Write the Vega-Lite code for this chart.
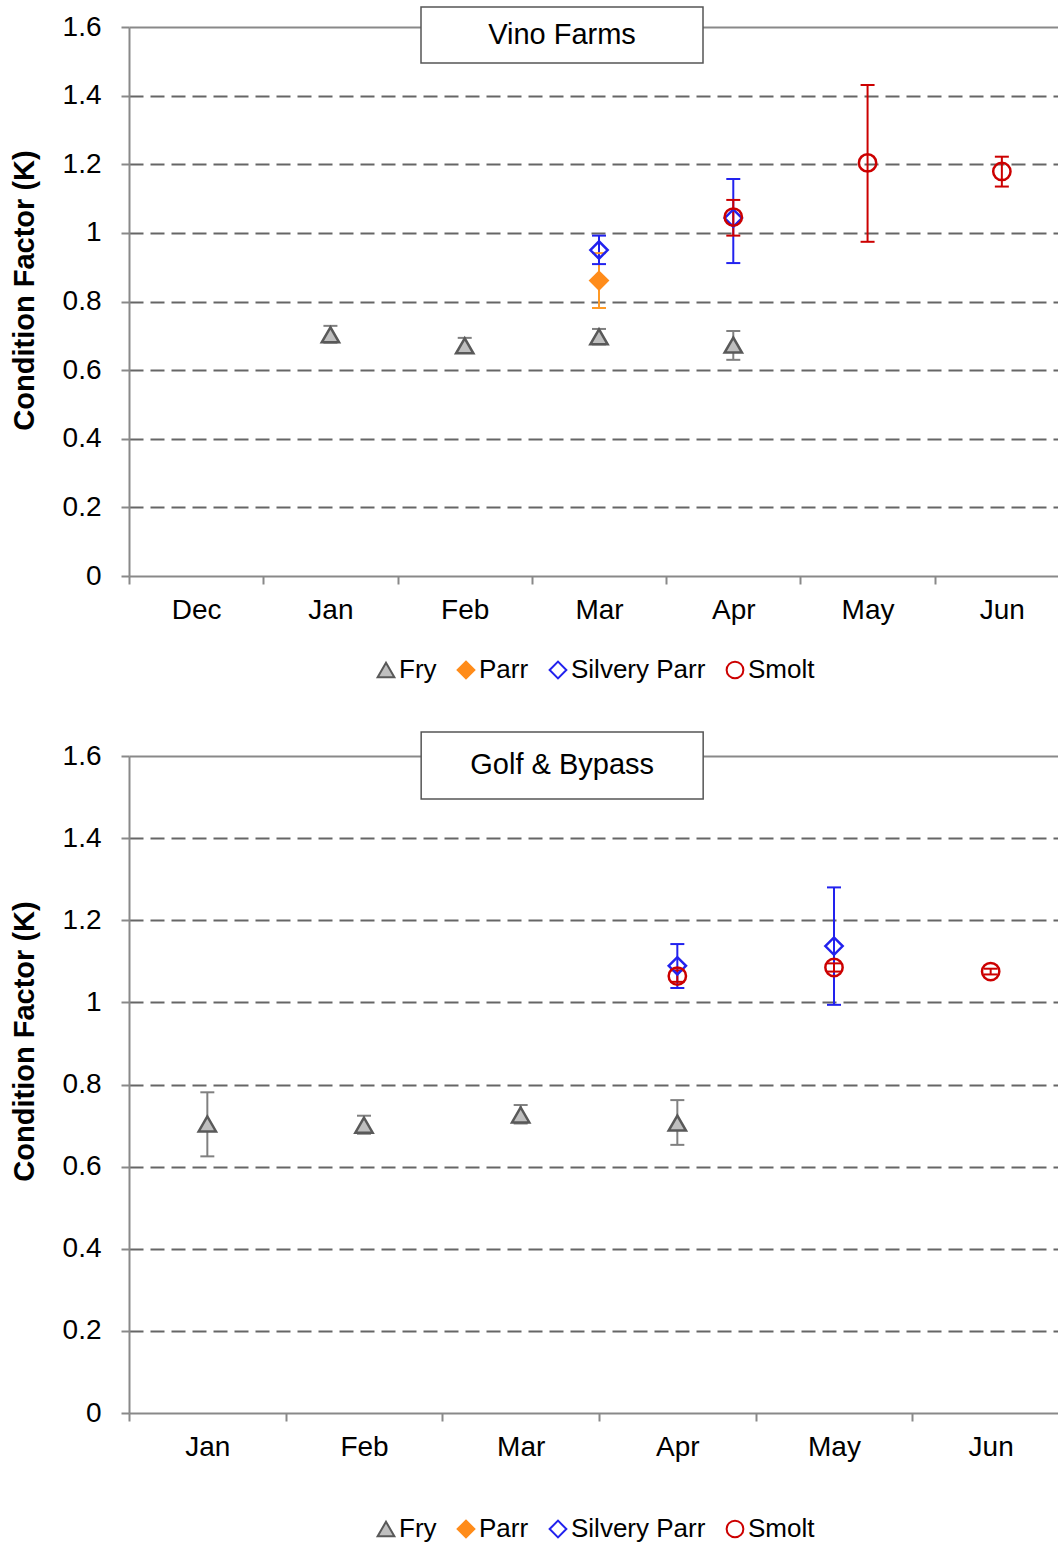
{
  "$schema": "https://vega.github.io/schema/vega-lite/v6.json",
  "padding": {"left": 10, "top": 3, "right": 0, "bottom": 0},
  "background": "white",
  "config": {
    "font": "Liberation Sans",
    "view": {"stroke": null},
    "axis": {
      "labelFont": "Liberation Sans", "labelFontSize": 28, "labelColor": "#000",
      "titleFont": "Liberation Sans", "titleFontSize": 29, "titleColor": "#000",
      "domainColor": "#898989", "domainWidth": 2, "tickColor": "#898989", "tickWidth": 2, "tickSize": 8
    },
    "legend": {
      "labelFont": "Liberation Sans", "labelFontSize": 26, "labelColor": "#000",
      "symbolSize": 280, "symbolStrokeWidth": 2, "labelOffset": 0, "columnPadding": 16
    }
  },
  "datasets": {
    "vino": [
      {"month": "Jan", "stage": "Fry", "k": 0.703, "lo": 0.680, "hi": 0.729},
      {"month": "Feb", "stage": "Fry", "k": 0.671, "lo": 0.650, "hi": 0.694},
      {"month": "Mar", "stage": "Fry", "k": 0.697, "lo": 0.675, "hi": 0.720},
      {"month": "Apr", "stage": "Fry", "k": 0.673, "lo": 0.630, "hi": 0.714},
      {"month": "Mar", "stage": "Parr", "k": 0.861, "lo": 0.781, "hi": 0.941},
      {"month": "Mar", "stage": "Silvery Parr", "k": 0.950, "lo": 0.909, "hi": 0.992},
      {"month": "Apr", "stage": "Silvery Parr", "k": 1.043, "lo": 0.912, "hi": 1.157},
      {"month": "Apr", "stage": "Smolt", "k": 1.046, "lo": 0.992, "hi": 1.096},
      {"month": "May", "stage": "Smolt", "k": 1.204, "lo": 0.974, "hi": 1.431},
      {"month": "Jun", "stage": "Smolt", "k": 1.179, "lo": 1.135, "hi": 1.222}
    ],
    "golf": [
      {"month": "Jan", "stage": "Fry", "k": 0.704, "lo": 0.625, "hi": 0.781},
      {"month": "Feb", "stage": "Fry", "k": 0.701, "lo": 0.680, "hi": 0.724},
      {"month": "Mar", "stage": "Fry", "k": 0.726, "lo": 0.705, "hi": 0.750},
      {"month": "Apr", "stage": "Fry", "k": 0.706, "lo": 0.653, "hi": 0.762},
      {"month": "Apr", "stage": "Silvery Parr", "k": 1.089, "lo": 1.035, "hi": 1.142},
      {"month": "May", "stage": "Silvery Parr", "k": 1.137, "lo": 0.994, "hi": 1.280},
      {"month": "Apr", "stage": "Smolt", "k": 1.064, "lo": 1.050, "hi": 1.078},
      {"month": "May", "stage": "Smolt", "k": 1.085, "lo": 1.075, "hi": 1.095},
      {"month": "Jun", "stage": "Smolt", "k": 1.075, "lo": 1.068, "hi": 1.082}
    ]
  },
  "spacing": 45,
  "resolve": {
    "scale": {"x": "independent", "y": "independent", "color": "independent", "stroke": "independent", "fill": "independent", "shape": "independent"},
    "legend": {"stroke": "independent", "fill": "independent", "shape": "independent"}
  },
  "vconcat": [
    {
      "width": 930, "height": 549,
      "data": {"name": "vino"},
      "layer": [
        {
          "mark": {"type": "rule", "strokeWidth": 2},
          "encoding": {
            "x": {"field": "month", "type": "nominal", "scale": {"type": "band", "domain": ["Dec", "Jan", "Feb", "Mar", "Apr", "May", "Jun"], "paddingInner": 0, "paddingOuter": 0, "range": [0, 940]},
                  "axis": {"title": null, "tickBand": "extent", "labelAngle": 0, "grid": false, "labelPadding": 12}},
            "y": {"field": "lo", "type": "quantitative", "scale": {"domain": [0, 1.6], "nice": false},
                  "axis": {"title": "Condition Factor (K)", "titleFontWeight": "bold", "titleY": 263, "values": [0, 0.2, 0.4, 0.6, 0.8, 1, 1.2, 1.4, 1.6], "format": ".1~f",
                           "labelPadding": 20, "titlePadding": 23, "grid": true, "gridWidth": 2,
                           "gridColor": {"condition": {"test": "datum.value >= 1.6", "value": "#898989"}, "value": "#666666"},
                           "gridDash": {"condition": {"test": "datum.value >= 1.6", "value": []}, "value": [14, 7]},
                           "gridOpacity": {"condition": {"test": "datum.value <= 0", "value": 0}, "value": 1}}},
            "y2": {"field": "hi"},
            "color": {"field": "stage", "type": "nominal", "scale": {"domain": ["Smolt", "Silvery Parr", "Parr", "Fry"], "range": ["#cc0000", "#2222ee", "#ff9a26", "#808080"]}, "legend": null}
          }
        },
        {
          "mark": {"type": "tick", "thickness": 2, "size": 14, "opacity": 1},
          "encoding": {
            "x": {"field": "month", "type": "nominal"},
            "y": {"field": "lo", "type": "quantitative"},
            "color": {"field": "stage", "type": "nominal", "legend": null}
          }
        },
        {
          "mark": {"type": "tick", "thickness": 2, "size": 14, "opacity": 1},
          "encoding": {
            "x": {"field": "month", "type": "nominal"},
            "y": {"field": "hi", "type": "quantitative"},
            "color": {"field": "stage", "type": "nominal", "legend": null}
          }
        },
        {
          "mark": {"type": "point", "strokeWidth": 2.5, "size": 300, "opacity": 1},
          "encoding": {
            "x": {"field": "month", "type": "nominal"},
            "y": {"field": "k", "type": "quantitative"},
            "shape": {"field": "stage", "type": "nominal", "scale": {"domain": ["Fry", "Parr", "Silvery Parr", "Smolt"], "range": ["triangle-up", "diamond", "diamond", "circle"]},
                      "legend": {"title": null, "orient": "none", "direction": "horizontal", "legendX": 244, "legendY": 630}},
            "stroke": {"field": "stage", "type": "nominal", "scale": {"domain": ["Fry", "Parr", "Silvery Parr", "Smolt"], "range": ["#595959", "#ff8c1a", "#2222ee", "#cc0000"]},
                      "legend": {"title": null, "orient": "none", "direction": "horizontal", "legendX": 244, "legendY": 630}},
            "fill": {"field": "stage", "type": "nominal", "scale": {"domain": ["Fry", "Parr", "Silvery Parr", "Smolt"], "range": ["#bfbfbf", "#ff8c1a", "transparent", "transparent"]},
                      "legend": {"title": null, "orient": "none", "direction": "horizontal", "legendX": 244, "legendY": 630}}
          }
        },
        {
          "data": {"values": [{"label": "Vino Farms"}]},
          "mark": {"type": "point", "shape": "M-1,-0.1986H1V0.1986H-1Z", "size": 79524, "filled": true, "fill": "white", "stroke": "#555555", "strokeWidth": 1.5, "opacity": 1, "xOffset": -37},
          "encoding": {"x": {"datum": "Mar"}, "y": {"datum": 1.577}}
        },
        {
          "data": {"values": [{"label": "Vino Farms"}]},
          "mark": {"type": "text", "fontSize": 29, "font": "Liberation Sans", "color": "#000", "align": "center", "baseline": "middle", "xOffset": -37},
          "encoding": {"x": {"datum": "Mar"}, "y": {"datum": 1.577}, "text": {"field": "label"}}
        }
      ]
    },
    {
      "width": 930, "height": 657,
      "data": {"name": "golf"},
      "layer": [
        {
          "mark": {"type": "rule", "strokeWidth": 2},
          "encoding": {
            "x": {"field": "month", "type": "nominal", "scale": {"type": "band", "domain": ["Jan", "Feb", "Mar", "Apr", "May", "Jun"], "paddingInner": 0, "paddingOuter": 0, "range": [0, 940]},
                  "axis": {"title": null, "tickBand": "extent", "labelAngle": 0, "grid": false, "labelPadding": 12}},
            "y": {"field": "lo", "type": "quantitative", "scale": {"domain": [0, 1.6], "nice": false},
                  "axis": {"title": "Condition Factor (K)", "titleFontWeight": "bold", "titleY": 285, "values": [0, 0.2, 0.4, 0.6, 0.8, 1, 1.2, 1.4, 1.6], "format": ".1~f",
                           "labelPadding": 20, "titlePadding": 23, "grid": true, "gridWidth": 2,
                           "gridColor": {"condition": {"test": "datum.value >= 1.6", "value": "#898989"}, "value": "#666666"},
                           "gridDash": {"condition": {"test": "datum.value >= 1.6", "value": []}, "value": [14, 7]},
                           "gridOpacity": {"condition": {"test": "datum.value <= 0", "value": 0}, "value": 1}}},
            "y2": {"field": "hi"},
            "color": {"field": "stage", "type": "nominal", "scale": {"domain": ["Smolt", "Silvery Parr", "Parr", "Fry"], "range": ["#cc0000", "#2222ee", "#ff9a26", "#808080"]}, "legend": null}
          }
        },
        {
          "mark": {"type": "tick", "thickness": 2, "size": 14, "opacity": 1},
          "encoding": {
            "x": {"field": "month", "type": "nominal"},
            "y": {"field": "lo", "type": "quantitative"},
            "color": {"field": "stage", "type": "nominal", "legend": null}
          }
        },
        {
          "mark": {"type": "tick", "thickness": 2, "size": 14, "opacity": 1},
          "encoding": {
            "x": {"field": "month", "type": "nominal"},
            "y": {"field": "hi", "type": "quantitative"},
            "color": {"field": "stage", "type": "nominal", "legend": null}
          }
        },
        {
          "mark": {"type": "point", "strokeWidth": 2.5, "size": 300, "opacity": 1},
          "encoding": {
            "x": {"field": "month", "type": "nominal"},
            "y": {"field": "k", "type": "quantitative"},
            "shape": {"field": "stage", "type": "nominal", "scale": {"domain": ["Fry", "Parr", "Silvery Parr", "Smolt"], "range": ["triangle-up", "diamond", "diamond", "circle"]},
                      "legend": {"title": null, "orient": "none", "direction": "horizontal", "legendX": 244, "legendY": 760}},
            "stroke": {"field": "stage", "type": "nominal", "scale": {"domain": ["Fry", "Parr", "Silvery Parr", "Smolt"], "range": ["#595959", "#ff8c1a", "#2222ee", "#cc0000"]},
                      "legend": {"title": null, "orient": "none", "direction": "horizontal", "legendX": 244, "legendY": 760}},
            "fill": {"field": "stage", "type": "nominal", "scale": {"domain": ["Fry", "Parr", "Silvery Parr", "Smolt"], "range": ["#bfbfbf", "#ff8c1a", "transparent", "transparent"]},
                      "legend": {"title": null, "orient": "none", "direction": "horizontal", "legendX": 244, "legendY": 760}}
          }
        },
        {
          "data": {"values": [{"label": "Golf & Bypass"}]},
          "mark": {"type": "point", "shape": "M-1,-0.2376H1V0.2376H-1Z", "size": 79524, "filled": true, "fill": "white", "stroke": "#555555", "strokeWidth": 1.5, "opacity": 1, "xOffset": 41.5},
          "encoding": {"x": {"datum": "Mar"}, "y": {"datum": 1.577}}
        },
        {
          "data": {"values": [{"label": "Golf & Bypass"}]},
          "mark": {"type": "text", "fontSize": 29, "font": "Liberation Sans", "color": "#000", "align": "center", "baseline": "middle", "xOffset": 41.5},
          "encoding": {"x": {"datum": "Mar"}, "y": {"datum": 1.577}, "text": {"field": "label"}}
        }
      ]
    }
  ]
}
